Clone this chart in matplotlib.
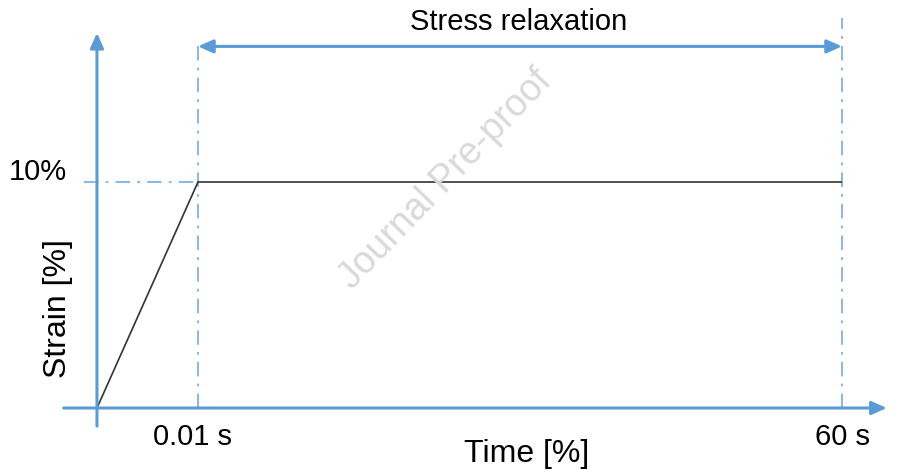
import numpy as np
import matplotlib
matplotlib.use("Agg")
import matplotlib.pyplot as plt

# loading protocol: ramp to 10 % strain in 0.01 s, then hold until 60 s
time_s = [0, 0.01, 60]
strain_pct = [0, 10, 10]
time_labels = ["0.01 s", "60 s"]
strain_labels = ["10%"]

blue = "#5B9BD5"
light_blue = "#7FB2E0"
plt.rcParams["font.family"] = ["Liberation Sans", "DejaVu Sans"]

# schematic time axis: ramp part and hold part stretched differently
t_ramp, t_end = time_s[1], time_s[2]
k2 = 6.376 / (t_end - t_ramp)

def fwd(x):
    x = np.asarray(x, dtype=float)
    return np.where(x <= t_ramp, x / t_ramp, 1 + (x - t_ramp) * k2)

def inv(u):
    u = np.asarray(u, dtype=float)
    return np.where(u <= 1, u * t_ramp, t_ramp + (u - 1) / k2)

fig = plt.figure(figsize=(9.01, 4.70), dpi=100)
ax = fig.add_axes([0, 0, 1, 1])
ax.set_xscale("function", functions=(fwd, inv))
ax.set_xlim(inv(-0.960), inv(7.960))
ax.set_ylim(-2.743, 18.053)
ax.axis("off")

def X(u):
    return float(inv(u))

# axes arrows
ax.annotate("", xy=(X(7.82), 0), xytext=(X(-0.33), 0),
            arrowprops=dict(arrowstyle="-|>,head_length=0.9,head_width=0.4",
                            color=blue, lw=2.2, shrinkA=0, shrinkB=0))
ax.annotate("", xy=(0, 16.6), xytext=(0, -0.8),
            arrowprops=dict(arrowstyle="-|>,head_length=0.9,head_width=0.4",
                            color=blue, lw=2.2, shrinkA=0, shrinkB=0))

# guide lines
ax.plot([X(-0.13), t_ramp], [strain_pct[1]] * 2, color=light_blue, lw=1.3,
        ls=(0, (8, 4, 1.5, 4)))
ax.plot([t_ramp, t_ramp], [0, 16.0], color=light_blue, lw=1.3,
        ls=(0, (8, 4, 1.5, 4)))
ax.plot([t_end, t_end], [0, 17.25], color=light_blue, lw=1.3,
        ls=(0, (8, 4, 1.5, 4)))

# strain history
ax.plot(time_s, strain_pct, color="#333333", lw=1.2, solid_capstyle="butt")

# stress relaxation span
ax.annotate("", xy=(t_end, 16.0), xytext=(t_ramp, 16.0),
            arrowprops=dict(arrowstyle="<|-|>,head_length=0.9,head_width=0.4",
                            color=blue, lw=2.2, shrinkA=0, shrinkB=0))
ax.text(X(4.17), 17.08, "Stress relaxation", fontsize=21, ha="center", va="center")

# labels
ax.text(X(0.95), -1.28, time_labels[0], fontsize=21, ha="center", va="center")
ax.text(t_end, -1.28, time_labels[1], fontsize=21, ha="center", va="center")
ax.text(X(-0.59), 10.45, strain_labels[0], fontsize=21, ha="center", va="center")
ax.text(X(4.25), -2.05, "Time [%]", fontsize=23, ha="center", va="center")
ax.text(X(-0.39), 4.38, "Strain [%]", fontsize=23, ha="center", va="center",
        rotation=90)

# watermark
ax.text(X(3.45), 10.1, "Journal Pre-proof", fontsize=27, color="#D9D9D9",
        ha="center", va="center", rotation=46)

fig.savefig("out.png", dpi=100)
